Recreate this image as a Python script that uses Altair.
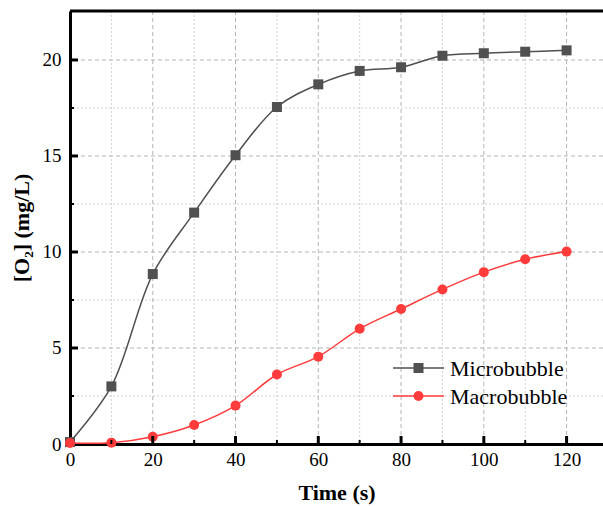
import altair as alt
import pandas as pd

# ---- data ----
time_s = [0, 10, 20, 30, 40, 50, 60, 70, 80, 90, 100, 110, 120]
micro = [0.1, 3.0, 8.85, 12.05, 15.04, 17.55, 18.73, 19.43, 19.62, 20.22, 20.35, 20.43, 20.5]
macro = [0.05, 0.07, 0.38, 0.99, 2.0, 3.62, 4.55, 6.0, 7.03, 8.05, 8.95, 9.62, 10.02]
series_names = ["Microbubble", "Macrobubble"]
series_colors = ["#505050", "#ff3b3b"]
series_shapes = ["square", "circle"]

x_major = [20, 40, 60, 80, 100, 120]
x_minor = [10, 30, 50, 70, 90, 110]
y_major = [5, 10, 15, 20]
y_minor = [2.5, 7.5, 12.5, 17.5]
x_labels = [0, 20, 40, 60, 80, 100, 120]
y_labels = [0, 5, 10, 15, 20]

W, H = 533, 433
FONT = "Liberation Serif"

df = pd.DataFrame({
    "time": time_s * 2,
    "conc": micro + macro,
    "series": [series_names[0]] * len(time_s) + [series_names[1]] * len(time_s),
})

xscale = alt.Scale(domain=[0, 128.8], nice=False, zero=False)
yscale = alt.Scale(domain=[0, 22.55], nice=False, zero=False)
cscale = alt.Scale(domain=series_names, range=series_colors)
sscale = alt.Scale(domain=series_names, range=series_shapes)

xaxis = alt.Axis(
    values=x_labels, grid=False, ticks=False, tickSize=0, labelFlush=False,
    labelPadding=6, labelFontSize=19, labelFont=FONT, labelColor="black",
    titleFont=FONT, titleFontSize=22, titleFontWeight="bold", titleColor="black",
    titlePadding=13, domainColor="black", domainWidth=3,
)
yaxis = alt.Axis(
    values=y_labels, grid=False, ticks=False, tickSize=0, labelFlush=False,
    labelPadding=9, labelFontSize=19, labelFont=FONT, labelColor="black",
    titleFont=FONT, titleFontSize=22, titleFontWeight="bold", titleColor="black",
    titlePadding=9, domainColor="black", domainWidth=3,
)
XT = "Time (s)"
YT = "[O\u2082] (mg/L)"


def X():
    return alt.X("time:Q", scale=xscale, axis=xaxis, title=XT)


def Y():
    return alt.Y("conc:Q", scale=yscale, axis=yaxis, title=YT)


def xvals(v):
    return pd.DataFrame({"time": v})


def yvals(v):
    return pd.DataFrame({"conc": v})


grid_x_major = alt.Chart(xvals(x_major)).mark_rule(
    color="#b4b4b4", strokeWidth=1, strokeDash=[4, 3]).encode(x=X())
grid_x_minor = alt.Chart(xvals(x_minor)).mark_rule(
    color="#d2d2d2", strokeWidth=1, strokeDash=[2, 2]).encode(x=X())
grid_y_major = alt.Chart(yvals(y_major)).mark_rule(
    color="#b4b4b4", strokeWidth=1, strokeDash=[4, 3]).encode(y=Y())
grid_y_minor = alt.Chart(yvals(y_minor)).mark_rule(
    color="#d2d2d2", strokeWidth=1, strokeDash=[2, 2]).encode(y=Y())

lines = alt.Chart(df).mark_line(strokeWidth=1.5, interpolate="catmull-rom").encode(
    x=X(), y=Y(),
    color=alt.Color("series:N", scale=cscale, legend=None),
    detail="series:N",
)

points = alt.Chart(df).mark_point(filled=True, size=100, opacity=1).encode(
    x=X(), y=Y(),
    color=alt.Color("series:N", scale=cscale, legend=None),
    shape=alt.Shape("series:N", scale=sscale, legend=None),
)

ticks_x_major = alt.Chart(xvals(x_major)).mark_rule(color="black", strokeWidth=3).encode(
    x=X(), y=alt.value(H), y2=alt.value(H - 8))
ticks_x_minor = alt.Chart(xvals(x_minor)).mark_rule(color="black", strokeWidth=2).encode(
    x=X(), y=alt.value(H), y2=alt.value(H - 4))
ticks_y_major = alt.Chart(yvals(y_major)).mark_rule(color="black", strokeWidth=3).encode(
    y=Y(), x=alt.value(0), x2=alt.value(8))
ticks_y_minor = alt.Chart(yvals(y_minor)).mark_rule(color="black", strokeWidth=2).encode(
    y=Y(), x=alt.value(0), x2=alt.value(4))

top_border = alt.Chart(xvals([0])).mark_rule(color="black", strokeWidth=3).encode(
    x=alt.value(0), x2=alt.value(W), y=alt.value(0))

# manual legend (line + marker + label)
legend_layers = []
leg_y = [357, 385]
for name, col, shp, yy in zip(series_names, series_colors, series_shapes, leg_y):
    ld = pd.DataFrame({"series": [name]})
    legend_layers.append(
        alt.Chart(ld).mark_rule(color=col, strokeWidth=1.5).encode(
            x=alt.value(323), x2=alt.value(374), y=alt.value(yy)))
    legend_layers.append(
        alt.Chart(ld).mark_point(filled=True, size=100, opacity=1, color=col, shape=shp).encode(
            x=alt.value(348.5), y=alt.value(yy)))
    legend_layers.append(
        alt.Chart(ld).mark_text(align="left", baseline="middle", font=FONT, fontSize=22,
                                color="black").encode(
            x=alt.value(380), y=alt.value(yy + 1), text="series:N"))

chart = alt.layer(
    grid_x_minor, grid_y_minor, grid_x_major, grid_y_major,
    lines, points,
    ticks_x_major, ticks_x_minor, ticks_y_major, ticks_y_minor, top_border,
    *legend_layers,
).properties(
    width=W, height=H,
    autosize=alt.AutoSizeParams(type="none"),
    padding={"left": 70, "top": 11, "right": 0, "bottom": 62},
    background="white",
).configure_view(stroke=None)

chart.save("out.html", embed_options={"renderer": "svg", "actions": False})
